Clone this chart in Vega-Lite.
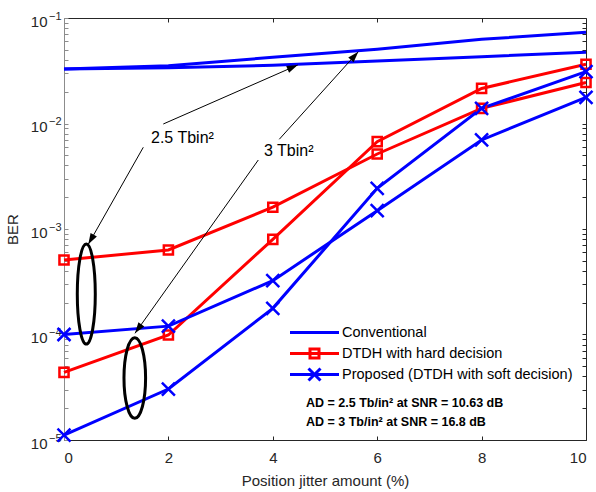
{
  "$schema": "https://vega.github.io/schema/vega-lite/v6.json",
  "width": 522,
  "height": 422,
  "autosize": "none",
  "padding": {"left": 64, "top": 18, "right": 10, "bottom": 52},
  "config": {
    "font": "Liberation Sans",
    "view": {"stroke": null},
    "axis": {"grid": false}
  },
  "datasets": {
    "series": [
      {"method": "Conventional", "ad": "2.5", "jitter": 0, "ber": 0.0329},
      {"method": "Conventional", "ad": "2.5", "jitter": 2, "ber": 0.0338},
      {"method": "Conventional", "ad": "2.5", "jitter": 4, "ber": 0.0356},
      {"method": "Conventional", "ad": "2.5", "jitter": 6, "ber": 0.0391},
      {"method": "Conventional", "ad": "2.5", "jitter": 8, "ber": 0.0430},
      {"method": "Conventional", "ad": "2.5", "jitter": 10, "ber": 0.0473},
      {"method": "Conventional", "ad": "3", "jitter": 0, "ber": 0.0329},
      {"method": "Conventional", "ad": "3", "jitter": 2, "ber": 0.0353},
      {"method": "Conventional", "ad": "3", "jitter": 4, "ber": 0.0424},
      {"method": "Conventional", "ad": "3", "jitter": 6, "ber": 0.0505},
      {"method": "Conventional", "ad": "3", "jitter": 8, "ber": 0.0628},
      {"method": "Conventional", "ad": "3", "jitter": 10, "ber": 0.0731},
      {"method": "DTDH with hard decision", "ad": "2.5", "jitter": 0, "ber": 0.000508},
      {"method": "DTDH with hard decision", "ad": "2.5", "jitter": 2, "ber": 0.000633},
      {"method": "DTDH with hard decision", "ad": "2.5", "jitter": 4, "ber": 0.00161},
      {"method": "DTDH with hard decision", "ad": "2.5", "jitter": 6, "ber": 0.00514},
      {"method": "DTDH with hard decision", "ad": "2.5", "jitter": 8, "ber": 0.0139},
      {"method": "DTDH with hard decision", "ad": "2.5", "jitter": 10, "ber": 0.0245},
      {"method": "DTDH with hard decision", "ad": "3", "jitter": 0, "ber": 0.0000438},
      {"method": "DTDH with hard decision", "ad": "3", "jitter": 2, "ber": 0.0000989},
      {"method": "DTDH with hard decision", "ad": "3", "jitter": 4, "ber": 0.000798},
      {"method": "DTDH with hard decision", "ad": "3", "jitter": 6, "ber": 0.00673},
      {"method": "DTDH with hard decision", "ad": "3", "jitter": 8, "ber": 0.0215},
      {"method": "DTDH with hard decision", "ad": "3", "jitter": 10, "ber": 0.0364},
      {"method": "Proposed (DTDH with soft decision)", "ad": "2.5", "jitter": 0, "ber": 0.000100},
      {"method": "Proposed (DTDH with soft decision)", "ad": "2.5", "jitter": 2, "ber": 0.000120},
      {"method": "Proposed (DTDH with soft decision)", "ad": "2.5", "jitter": 4, "ber": 0.000324},
      {"method": "Proposed (DTDH with soft decision)", "ad": "2.5", "jitter": 6, "ber": 0.00149},
      {"method": "Proposed (DTDH with soft decision)", "ad": "2.5", "jitter": 8, "ber": 0.00698},
      {"method": "Proposed (DTDH with soft decision)", "ad": "2.5", "jitter": 10, "ber": 0.0177},
      {"method": "Proposed (DTDH with soft decision)", "ad": "3", "jitter": 0, "ber": 0.0000111},
      {"method": "Proposed (DTDH with soft decision)", "ad": "3", "jitter": 2, "ber": 0.0000304},
      {"method": "Proposed (DTDH with soft decision)", "ad": "3", "jitter": 4, "ber": 0.000177},
      {"method": "Proposed (DTDH with soft decision)", "ad": "3", "jitter": 6, "ber": 0.00243},
      {"method": "Proposed (DTDH with soft decision)", "ad": "3", "jitter": 8, "ber": 0.0139},
      {"method": "Proposed (DTDH with soft decision)", "ad": "3", "jitter": 10, "ber": 0.0310}
    ],
    "arrows": [
      {"id": "a1u", "x0": 1.902, "y0": 0.009892, "x1": 4.477, "y1": 0.03584},
      {"id": "a1l", "x0": 1.519, "y0": 0.005949, "x1": 0.4655, "y1": 0.000716},
      {"id": "a2u", "x0": 4.124, "y0": 0.007085, "x1": 5.638, "y1": 0.04793},
      {"id": "a2l", "x0": 3.722, "y0": 0.004508, "x1": 1.360, "y1": 0.00010266}
    ],
    "labels": [
      {"id": "t1", "x": 1.667, "y": 0.00649, "text": "2.5 Tbin²"},
      {"id": "t2", "x": 3.831, "y": 0.00492, "text": "3 Tbin²"}
    ],
    "notes": [
      {"x": 4.636, "y": 0.0000207, "text": "AD = 2.5 Tb/in² at SNR = 10.63 dB"},
      {"x": 4.636, "y": 0.00001358, "text": "AD = 3 Tb/in² at SNR = 16.8 dB"}
    ]
  },
  "resolve": {"axis": {"x": "independent", "y": "independent"}},
  "layer": [
    {
      "data": {"name": "series"},
      "mark": {"type": "line", "strokeWidth": 3},
      "encoding": {
        "x": {
          "field": "jitter", "type": "quantitative",
          "scale": {"domain": [0, 10], "nice": false, "zero": false},
          "axis": {
            "orient": "bottom",
            "values": [0, 2, 4, 6, 8, 10],
            "tickSize": -4,
            "tickColor": "#262626",
            "domainColor": "#262626",
            "labelFontSize": 15,
            "labelColor": "#262626",
            "labelPadding": 14,
            "title": "Position jitter amount (%)",
            "titleFontSize": 15,
            "titleFontWeight": "normal",
            "titleColor": "#262626",
            "titlePadding": 8
          }
        },
        "y": {
          "field": "ber", "type": "quantitative",
          "scale": {"type": "log", "domain": [0.00001, 0.1], "nice": false},
          "axis": {
            "orient": "left",
            "values": [0.00001, 0.00002, 0.00003, 0.00004, 0.00005, 0.00006, 0.00007, 0.00008, 0.00009,
                       0.0001, 0.0002, 0.0003, 0.0004, 0.0005, 0.0006, 0.0007, 0.0008, 0.0009,
                       0.001, 0.002, 0.003, 0.004, 0.005, 0.006, 0.007, 0.008, 0.009,
                       0.01, 0.02, 0.03, 0.04, 0.05, 0.06, 0.07, 0.08, 0.09, 0.1],
            "labelExpr": "(datum.value == 0.1 || datum.value == 0.01 || datum.value == 0.001 || datum.value == 0.0001 || datum.value == 0.00001) ? '10' : ''",
            "labelOverlap": false,
            "labelFontSize": 15,
            "labelColor": "#262626",
            "labelPadding": 21,
            "labelOffset": 3,
            "tickSize": -4,
            "tickColor": "#8c8c8c",
            "domainColor": "#8c8c8c",
            "title": "BER",
            "titleFontSize": 15,
            "titleFontWeight": "normal",
            "titleColor": "#262626",
            "titlePadding": 10
          }
        },
        "detail": {"field": "ad"},
        "color": {
          "field": "method", "type": "nominal",
          "scale": {
            "domain": ["Conventional", "DTDH with hard decision", "Proposed (DTDH with soft decision)"],
            "range": ["#0000ff", "#ff0000", "#0000ff"]
          },
          "legend": {
            "title": null,
            "orient": "none",
            "legendX": 226,
            "legendY": 304,
            "padding": 0,
            "symbolSize": 100,
            "symbolStrokeWidth": 3,
            "labelFontSize": 14.5,
            "labelColor": "#000000",
            "labelOffset": 37.5,
            "labelLimit": 400,
            "rowPadding": 0,
            "gridAlign": "all",
            "clipHeight": 21,
            "encode": {
              "symbols": {
                "update": {
                  "shape": {"signal": "datum.value === 'Conventional' ? 'M-1.45,0H8.35' : datum.value === 'DTDH with hard decision' ? 'M-1.45,0H8.35M2.55,-0.9H4.35V0.9H2.55Z' : 'M-1.45,0H8.35M2.25,-1.2L4.65,1.2M2.25,1.2L4.65,-1.2'"},
                  "fill": {"value": "transparent"}
                }
              }
            }
          }
        }
      }
    },
    {
      "data": {"name": "series"},
      "transform": [{"filter": "datum.method !== 'Conventional'"}],
      "mark": {"type": "point", "filled": false, "strokeWidth": 2.5, "opacity": 1},
      "encoding": {
        "x": {"field": "jitter", "type": "quantitative", "axis": null},
        "y": {"field": "ber", "type": "quantitative", "axis": null},
        "color": {"field": "method", "type": "nominal", "legend": null},
        "shape": {
          "field": "method", "type": "nominal",
          "scale": {
            "domain": ["DTDH with hard decision", "Proposed (DTDH with soft decision)"],
            "range": ["M-0.72,-0.72H0.72V0.72H-0.72Z", "M-1,-1L1,1M-1,1L1,-1"]
          },
          "legend": null
        },
        "size": {
          "field": "method", "type": "nominal",
          "scale": {
            "domain": ["DTDH with hard decision", "Proposed (DTDH with soft decision)"],
            "range": [160, 169]
          },
          "legend": null
        }
      }
    },
    {
      "data": {"name": "arrows"},
      "mark": {"type": "rule", "color": "#000000", "strokeWidth": 1},
      "encoding": {
        "x": {
          "field": "x0", "type": "quantitative",
          "axis": {
            "orient": "top",
            "values": [2, 4, 6, 8],
            "labels": false,
            "tickSize": -4,
            "tickColor": "#262626",
            "domainColor": "#262626",
            "title": null
          }
        },
        "y": {
          "field": "y0", "type": "quantitative",
          "axis": {
            "orient": "right",
            "values": [0.00001, 0.00002, 0.00003, 0.00004, 0.00005, 0.00006, 0.00007, 0.00008, 0.00009,
                       0.0001, 0.0002, 0.0003, 0.0004, 0.0005, 0.0006, 0.0007, 0.0008, 0.0009,
                       0.001, 0.002, 0.003, 0.004, 0.005, 0.006, 0.007, 0.008, 0.009,
                       0.01, 0.02, 0.03, 0.04, 0.05, 0.06, 0.07, 0.08, 0.09, 0.1],
            "labels": false,
            "tickSize": -4,
            "tickColor": "#262626",
            "domainColor": "#262626",
            "title": null
          }
        },
        "x2": {"field": "x1"},
        "y2": {"field": "y1"}
      }
    },
    {
      "data": {"name": "arrows"},
      "mark": {
        "type": "point",
        "filled": true,
        "color": "#000000",
        "opacity": 1,
        "shape": "M0,0L-0.33,1L0.33,1Z",
        "size": 484,
        "angle": {"expr": "datum.id == 'a1u' ? 66.3 : datum.id == 'a1l' ? 209.6 : datum.id == 'a2u' ? 42.0 : 215.4"}
      },
      "encoding": {
        "x": {"field": "x1", "type": "quantitative", "axis": null},
        "y": {
          "field": "y1", "type": "quantitative",
          "axis": {
            "orient": "left",
            "values": [0.00001, 0.0001, 0.001, 0.01, 0.1],
            "labelExpr": "datum.value == 0.1 ? '−1' : datum.value == 0.01 ? '−2' : datum.value == 0.001 ? '−3' : datum.value == 0.0001 ? '−4' : '−5'",
            "labelOverlap": false,
            "labelFontSize": 11,
            "labelColor": "#262626",
            "labelPadding": 3,
            "labelOffset": -2,
            "ticks": false,
            "domain": false,
            "title": null
          }
        }
      }
    },
    {
      "data": {"values": [{"x": 0.427, "y": 0.000242}]},
      "mark": {
        "type": "point",
        "filled": false,
        "color": "#000000",
        "opacity": 1,
        "strokeWidth": 3,
        "size": 10000,
        "shape": "M0,-1C0.0994,-1 0.18,-0.5523 0.18,0C0.18,0.5523 0.0994,1 0,1C-0.0994,1 -0.18,0.5523 -0.18,0C-0.18,-0.5523 -0.0994,-1 0,-1Z"
      },
      "encoding": {
        "x": {"field": "x", "type": "quantitative", "axis": null},
        "y": {"field": "y", "type": "quantitative", "axis": null}
      }
    },
    {
      "data": {"values": [{"x": 1.356, "y": 0.0000387}]},
      "mark": {
        "type": "point",
        "filled": false,
        "color": "#000000",
        "opacity": 1,
        "strokeWidth": 3,
        "size": 6500,
        "shape": "M0,-1C0.148,-1 0.268,-0.5523 0.268,0C0.268,0.5523 0.148,1 0,1C-0.148,1 -0.268,0.5523 -0.268,0C-0.268,-0.5523 -0.148,-1 0,-1Z"
      },
      "encoding": {
        "x": {"field": "x", "type": "quantitative", "axis": null},
        "y": {"field": "y", "type": "quantitative", "axis": null}
      }
    },
    {
      "data": {"name": "labels"},
      "mark": {"type": "text", "align": "left", "baseline": "alphabetic", "fontSize": 16, "color": "#000000"},
      "encoding": {
        "x": {"field": "x", "type": "quantitative", "axis": null},
        "y": {"field": "y", "type": "quantitative", "axis": null},
        "text": {"field": "text"}
      }
    },
    {
      "data": {"name": "notes"},
      "mark": {"type": "text", "align": "left", "baseline": "alphabetic", "fontSize": 12.5, "fontWeight": "bold", "color": "#000000"},
      "encoding": {
        "x": {"field": "x", "type": "quantitative", "axis": null},
        "y": {"field": "y", "type": "quantitative", "axis": null},
        "text": {"field": "text"}
      }
    }
  ]
}
